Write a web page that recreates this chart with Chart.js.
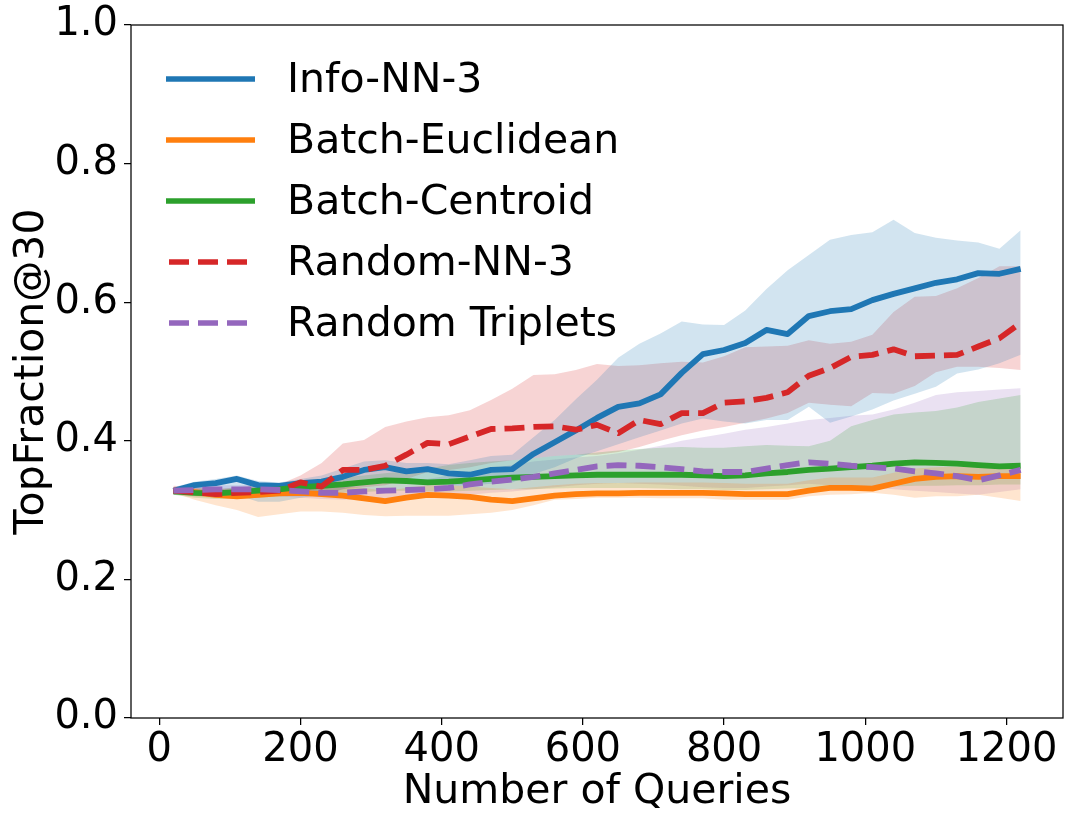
<!DOCTYPE html>
<html>
<head>
<meta charset="utf-8">
<script src="https://cdn.jsdelivr.net/npm/chart.js@4.4.1/dist/chart.umd.min.js"></script>
<style>
  html, body { margin: 0; padding: 0; background: #fff; }
  #wrap { width: 1071px; height: 823px; }
</style>
</head>
<body>
<div id="wrap"><canvas id="chart" width="1071" height="823"></canvas></div>
<script>
// number of queries (x)
var queries = [20, 50, 80, 110, 140, 170, 200, 230, 260, 290, 320, 350, 380, 410, 440, 470, 500, 530, 560, 590,
  620, 650, 680, 710, 740, 770, 800, 830, 860, 890, 920, 950, 980, 1010, 1040, 1070, 1100, 1130, 1160, 1190, 1220];

var xTicks = [0, 200, 400, 600, 800, 1000, 1200];
var yTicks = [0, 0.2, 0.4, 0.6, 0.8, 1.0];

// Info-NN-3
var infoNN3 = [0.328, 0.336, 0.339, 0.345, 0.336, 0.335, 0.339, 0.341, 0.348, 0.358, 0.362, 0.356, 0.359, 0.353,
  0.351, 0.358, 0.359, 0.381, 0.398, 0.415, 0.433, 0.449, 0.454, 0.467, 0.498, 0.525, 0.531, 0.541, 0.560, 0.554,
  0.580, 0.587, 0.590, 0.603, 0.612, 0.620, 0.628, 0.633, 0.642, 0.641, 0.648];
var infoNN3Hi = [0.333, 0.341, 0.345, 0.350, 0.342, 0.340, 0.345, 0.350, 0.360, 0.370, 0.372, 0.368, 0.368, 0.366,
  0.372, 0.378, 0.380, 0.405, 0.430, 0.460, 0.488, 0.520, 0.540, 0.555, 0.572, 0.568, 0.567, 0.588, 0.619, 0.646,
  0.668, 0.690, 0.697, 0.701, 0.719, 0.700, 0.693, 0.689, 0.686, 0.677, 0.704];
var infoNN3Lo = [0.322, 0.326, 0.325, 0.322, 0.312, 0.312, 0.318, 0.322, 0.330, 0.338, 0.340, 0.340, 0.338, 0.336,
  0.335, 0.338, 0.340, 0.352, 0.362, 0.375, 0.385, 0.395, 0.405, 0.415, 0.425, 0.432, 0.428, 0.425, 0.430, 0.430,
  0.449, 0.426, 0.435, 0.445, 0.458, 0.468, 0.478, 0.497, 0.503, 0.512, 0.524];

// Batch-Euclidean
var batchEuc = [0.328, 0.326, 0.322, 0.320, 0.322, 0.324, 0.325, 0.323, 0.321, 0.317, 0.313, 0.318, 0.322, 0.321,
  0.319, 0.315, 0.313, 0.317, 0.321, 0.323, 0.324, 0.324, 0.325, 0.325, 0.325, 0.325, 0.324, 0.323, 0.323, 0.323,
  0.328, 0.332, 0.332, 0.331, 0.338, 0.345, 0.348, 0.349, 0.348, 0.349, 0.349];
var batchEucHi = [0.332, 0.332, 0.330, 0.330, 0.333, 0.335, 0.337, 0.336, 0.334, 0.332, 0.328, 0.332, 0.336, 0.336,
  0.334, 0.332, 0.330, 0.333, 0.336, 0.338, 0.339, 0.339, 0.340, 0.340, 0.340, 0.340, 0.339, 0.338, 0.338, 0.338,
  0.343, 0.347, 0.347, 0.347, 0.354, 0.360, 0.362, 0.363, 0.362, 0.362, 0.362];
var batchEucLo = [0.325, 0.315, 0.307, 0.300, 0.290, 0.294, 0.298, 0.298, 0.296, 0.293, 0.291, 0.292, 0.292, 0.292,
  0.294, 0.296, 0.300, 0.307, 0.315, 0.316, 0.318, 0.318, 0.318, 0.317, 0.317, 0.317, 0.315, 0.315, 0.315, 0.315,
  0.320, 0.322, 0.323, 0.325, 0.322, 0.318, 0.320, 0.320, 0.322, 0.318, 0.313];

// Batch-Centroid
var batchCen = [0.327, 0.325, 0.324, 0.326, 0.328, 0.330, 0.333, 0.335, 0.337, 0.340, 0.343, 0.342, 0.340, 0.341,
  0.343, 0.345, 0.347, 0.348, 0.349, 0.350, 0.351, 0.351, 0.351, 0.351, 0.351, 0.350, 0.349, 0.350, 0.353, 0.355,
  0.358, 0.360, 0.362, 0.364, 0.367, 0.369, 0.368, 0.367, 0.365, 0.363, 0.364];
var batchCenHi = [0.330, 0.330, 0.330, 0.332, 0.335, 0.338, 0.341, 0.344, 0.347, 0.350, 0.353, 0.356, 0.360, 0.365,
  0.368, 0.370, 0.372, 0.375, 0.378, 0.380, 0.383, 0.386, 0.388, 0.390, 0.391, 0.390, 0.390, 0.392, 0.394, 0.393,
  0.392, 0.400, 0.421, 0.430, 0.438, 0.441, 0.443, 0.448, 0.456, 0.461, 0.466];
var batchCenLo = [0.322, 0.318, 0.316, 0.316, 0.318, 0.320, 0.322, 0.324, 0.325, 0.326, 0.328, 0.328, 0.327, 0.327,
  0.328, 0.329, 0.330, 0.330, 0.331, 0.332, 0.332, 0.332, 0.332, 0.331, 0.330, 0.330, 0.329, 0.329, 0.330, 0.331,
  0.332, 0.333, 0.333, 0.334, 0.334, 0.335, 0.335, 0.336, 0.336, 0.337, 0.337];

// Random-NN-3
var randNN3 = [0.328, 0.326, 0.323, 0.325, 0.326, 0.328, 0.340, 0.334, 0.358, 0.358, 0.364, 0.380, 0.397, 0.395,
  0.406, 0.417, 0.418, 0.420, 0.421, 0.416, 0.423, 0.411, 0.430, 0.424, 0.440, 0.440, 0.455, 0.457, 0.462, 0.470,
  0.494, 0.505, 0.521, 0.524, 0.532, 0.522, 0.523, 0.524, 0.536, 0.548, 0.570];
var randNN3Hi = [0.335, 0.333, 0.330, 0.333, 0.335, 0.337, 0.350, 0.368, 0.396, 0.401, 0.420, 0.428, 0.434, 0.437,
  0.444, 0.459, 0.475, 0.495, 0.496, 0.502, 0.511, 0.508, 0.509, 0.512, 0.514, 0.513, 0.522, 0.535, 0.536, 0.537,
  0.545, 0.540, 0.543, 0.553, 0.586, 0.608, 0.609, 0.620, 0.635, 0.652, 0.652];
var randNN3Lo = [0.322, 0.320, 0.318, 0.318, 0.320, 0.322, 0.328, 0.322, 0.330, 0.333, 0.336, 0.345, 0.355, 0.358,
  0.362, 0.368, 0.372, 0.375, 0.378, 0.380, 0.380, 0.384, 0.391, 0.400, 0.408, 0.415, 0.420, 0.426, 0.432, 0.440,
  0.455, 0.452, 0.450, 0.469, 0.468, 0.479, 0.499, 0.507, 0.507, 0.505, 0.502];

// Random Triplets
var randTrip = [0.328, 0.329, 0.330, 0.330, 0.330, 0.329, 0.327, 0.325, 0.325, 0.327, 0.328, 0.329, 0.330, 0.332,
  0.337, 0.341, 0.344, 0.348, 0.353, 0.358, 0.363, 0.365, 0.364, 0.362, 0.359, 0.356, 0.355, 0.355, 0.360, 0.365,
  0.369, 0.367, 0.364, 0.362, 0.360, 0.356, 0.353, 0.349, 0.343, 0.350, 0.358];
var randTripHi = [0.333, 0.335, 0.336, 0.336, 0.337, 0.337, 0.337, 0.337, 0.338, 0.339, 0.340, 0.342, 0.345, 0.350,
  0.355, 0.360, 0.365, 0.370, 0.373, 0.376, 0.378, 0.382, 0.387, 0.393, 0.400, 0.405, 0.410, 0.416, 0.420, 0.425,
  0.430, 0.433, 0.436, 0.438, 0.445, 0.455, 0.466, 0.470, 0.472, 0.474, 0.476];
var randTripLo = [0.323, 0.322, 0.322, 0.322, 0.322, 0.320, 0.318, 0.316, 0.315, 0.316, 0.317, 0.318, 0.318, 0.319,
  0.322, 0.325, 0.327, 0.330, 0.333, 0.336, 0.338, 0.339, 0.338, 0.337, 0.335, 0.333, 0.332, 0.332, 0.334, 0.336,
  0.338, 0.336, 0.334, 0.332, 0.330, 0.328, 0.326, 0.324, 0.322, 0.326, 0.330];

function pts(ys) {
  return ys.map(function (y, i) { return { x: queries[i], y: y }; });
}

function lineSet(label, ys, color, dashed, order) {
  return {
    label: label, data: pts(ys), borderColor: color, backgroundColor: color,
    borderWidth: 5.8, borderDash: dashed ? [20, 9] : [], borderCapStyle: 'butt',
    borderJoinStyle: 'round', pointRadius: 0, fill: false, tension: 0, order: order
  };
}

function bandSets(hi, lo, rgba) {
  return [
    { label: '', band: true, data: pts(hi), borderColor: 'rgba(0,0,0,0)', borderWidth: 0,
      backgroundColor: rgba, pointRadius: 0, fill: '+1', tension: 0, order: 20 },
    { label: '', band: true, data: pts(lo), borderColor: 'rgba(0,0,0,0)', borderWidth: 0,
      backgroundColor: rgba, pointRadius: 0, fill: false, tension: 0, order: 20 }
  ];
}

var lines = [
  lineSet('Info-NN-3', infoNN3, '#1f77b4', false, 10),
  lineSet('Batch-Euclidean', batchEuc, '#ff7f0e', false, 9),
  lineSet('Batch-Centroid', batchCen, '#2ca02c', false, 8),
  lineSet('Random-NN-3', randNN3, '#d62728', true, 7),
  lineSet('Random Triplets', randTrip, '#9467bd', true, 6)
];

var datasets = lines.concat(
  bandSets(infoNN3Hi, infoNN3Lo, 'rgba(31,119,180,0.2)'),
  bandSets(batchEucHi, batchEucLo, 'rgba(255,127,14,0.2)'),
  bandSets(batchCenHi, batchCenLo, 'rgba(44,160,44,0.2)'),
  bandSets(randNN3Hi, randNN3Lo, 'rgba(214,39,40,0.2)'),
  bandSets(randTripHi, randTripLo, 'rgba(148,103,189,0.2)')
);

// frame + legend drawn on top of the plot
var framePlugin = {
  id: 'frame',
  afterDatasetsDraw: function (chart) {
    var ctx = chart.ctx, a = chart.chartArea;
    ctx.save();
    ctx.strokeStyle = '#000';
    ctx.lineWidth = 1.25;
    ctx.setLineDash([]);
    ctx.strokeRect(a.left, a.top, a.right - a.left, a.bottom - a.top);

    ctx.font = '41px "DejaVu Sans"';
    ctx.textBaseline = 'middle';
    ctx.fillStyle = '#000';
    lines.forEach(function (ds, i) {
      var y = 79 + i * 61;
      ctx.beginPath();
      ctx.strokeStyle = ds.borderColor;
      ctx.lineWidth = 5.5;
      ctx.lineCap = 'butt';
      ctx.setLineDash(ds.borderDash);
      var x0 = ds.borderDash.length ? 169 : 166;
      ctx.moveTo(x0, y);
      ctx.lineTo(255, y);
      ctx.stroke();
      ctx.setLineDash([]);
      ctx.fillText(ds.label, 287, y + 2);
    });
    ctx.restore();
  }
};

Chart.defaults.font.family = '"DejaVu Sans", sans-serif';
Chart.defaults.color = '#000';

new Chart(document.getElementById('chart'), {
  type: 'line',
  data: { datasets: datasets },
  options: {
    responsive: false,
    animation: false,
    layout: { padding: { top: 20, right: 8, left: 0, bottom: 0 } },
    plugins: {
      legend: { display: false },
      tooltip: { enabled: false },
      filler: { propagate: false }
    },
    scales: {
      x: {
        type: 'linear',
        min: -40,
        max: 1280,
        afterBuildTicks: function (s) { s.ticks = xTicks.map(function (v) { return { value: v }; }); },
        afterFit: function (s) { s.height = 105; },
        ticks: { font: { size: 40 }, padding: 2, maxRotation: 0, callback: function (v) { return String(v); } },
        grid: { display: true, drawOnChartArea: false, drawTicks: true, tickLength: 7, color: '#000', lineWidth: 1.25 },
        border: { display: false },
        title: { display: true, text: 'Number of Queries', font: { size: 41 }, padding: { top: 0, bottom: 6 } }
      },
      y: {
        min: 0,
        max: 1,
        afterBuildTicks: function (s) { s.ticks = yTicks.map(function (v) { return { value: v }; }); },
        afterFit: function (s) { s.width = 131; },
        ticks: { font: { size: 40, lineHeight: 0.95 }, padding: 6, callback: function (v) { return v.toFixed(1); } },
        grid: { display: true, drawOnChartArea: false, drawTicks: true, tickLength: 7, color: '#000', lineWidth: 1.25 },
        border: { display: false },
        title: { display: true, text: 'TopFraction@30', font: { size: 41 }, padding: { top: 8, bottom: 0 } }
      }
    }
  },
  plugins: [framePlugin]
});
</script>
</body>
</html>
